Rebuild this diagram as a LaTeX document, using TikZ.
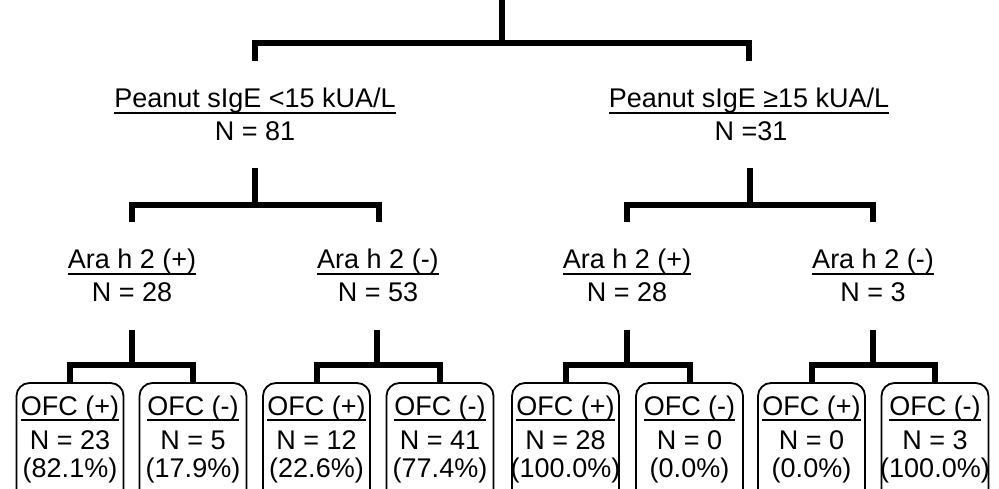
\documentclass[tikz,border=0pt]{standalone}
\usepackage{fontspec}
\setmainfont{Liberation Sans}
\newcommand\ulx[1]{\setbox0\hbox{#1}\rlap{\raisebox{-5.6pt}{\rule{\wd0}{1.8pt}}}\box0}
\begin{document}
\begin{tikzpicture}[x=1pt,y=-1pt,font=\fontsize{27}{32}\selectfont,
  branch/.style={line width=6pt,line join=miter},
  lbl/.style={anchor=base,inner sep=0pt},
  box/.style={draw,line width=1.8pt,rounded corners=13pt,minimum width=107pt,minimum height=125pt,anchor=north,inner sep=0pt,outer sep=0pt}]
\useasboundingbox (0,0) rectangle (999,489);
\clip (0,0) rectangle (999,489);
% level 0
\coordinate (r) at (502,-5);
\coordinate (rj) at (502,43.5);
\coordinate (e1) at (255,61);
\coordinate (e2) at (748.5,61);
\draw[branch] (r) -- (rj) (e1) |- (rj) -| (e2);
% level 1 labels
\node[lbl] (A) at (255,108) {\ulx{Peanut sIgE <15 kUA/L}};
\node[lbl] (An) at (255,141) {N = 81};
\node[lbl] (B) at (749,108) {\ulx{Peanut sIgE ≥15 kUA/L}};
\node[lbl] (Bn) at (751,141) {N =31};
% level 1 brackets
\coordinate (sA) at (255,168);
\coordinate (jA) at (255,205);
\coordinate (eA1) at (132,222);
\coordinate (eA2) at (379,222);
\draw[branch] (sA) -- (jA) (eA1) |- (jA) -| (eA2);
\coordinate (sB) at (750,168);
\coordinate (jB) at (750,205);
\coordinate (eB1) at (627,222);
\coordinate (eB2) at (873,222);
\draw[branch] (sB) -- (jB) (eB1) |- (jB) -| (eB2);
% level 2 labels
\node[lbl] (C1) at (132,269) {\ulx{Ara h 2 (+)}};
\node[lbl] (C1n) at (132,301.5) {N = 28};
\node[lbl] (C2) at (378,269) {\ulx{Ara h 2 (-)}};
\node[lbl] (C2n) at (378,301.5) {N = 53};
\node[lbl] (C3) at (627,269) {\ulx{Ara h 2 (+)}};
\node[lbl] (C3n) at (627,301.5) {N = 28};
\node[lbl] (C4) at (873,269) {\ulx{Ara h 2 (-)}};
\node[lbl] (C4n) at (873,301.5) {N = 3};
% boxes
\node[box] (b1) at (70,383) {};
\node[box] (b2) at (193,383) {};
\node[box] (b3) at (316.5,383) {};
\node[box] (b4) at (440,383) {};
\node[box] (b5) at (565.5,383) {};
\node[box] (b6) at (689.5,383) {};
\node[box] (b7) at (811.5,383) {};
\node[box] (b8) at (935,383) {};
% level 2 brackets
\coordinate (s1) at (132,330); \coordinate (j1) at (132,365);
\draw[branch] (s1) -- (j1) (b1.north) |- (j1) -| (b2.north);
\coordinate (s2) at (377,330); \coordinate (j2) at (377,365);
\draw[branch] (s2) -- (j2) (b3.north) |- (j2) -| (b4.north);
\coordinate (s3) at (627,330); \coordinate (j3) at (627,365);
\draw[branch] (s3) -- (j3) (b5.north) |- (j3) -| (b6.north);
\coordinate (s4) at (873,330); \coordinate (j4) at (873,365);
\draw[branch] (s4) -- (j4) (b7.north) |- (j4) -| (b8.north);
% box texts
\foreach \b/\t/\n/\p in {b1/+/23/82.1, b2/-/5/17.9, b3/+/12/22.6, b4/-/41/77.4,
  b5/+/28/100.0, b6/-/0/0.0, b7/+/0/0.0, b8/-/3/100.0}{
  \node[lbl] (\b t) at ([yshift=-32pt]\b.north) {\ulx{OFC (\t)}};
  \node[lbl] (\b n) at ([yshift=-66pt]\b.north) {N = \n};
  \node[lbl] (\b p) at ([yshift=-94pt]\b.north) {(\p\%)};
}
\end{tikzpicture}
\end{document}
